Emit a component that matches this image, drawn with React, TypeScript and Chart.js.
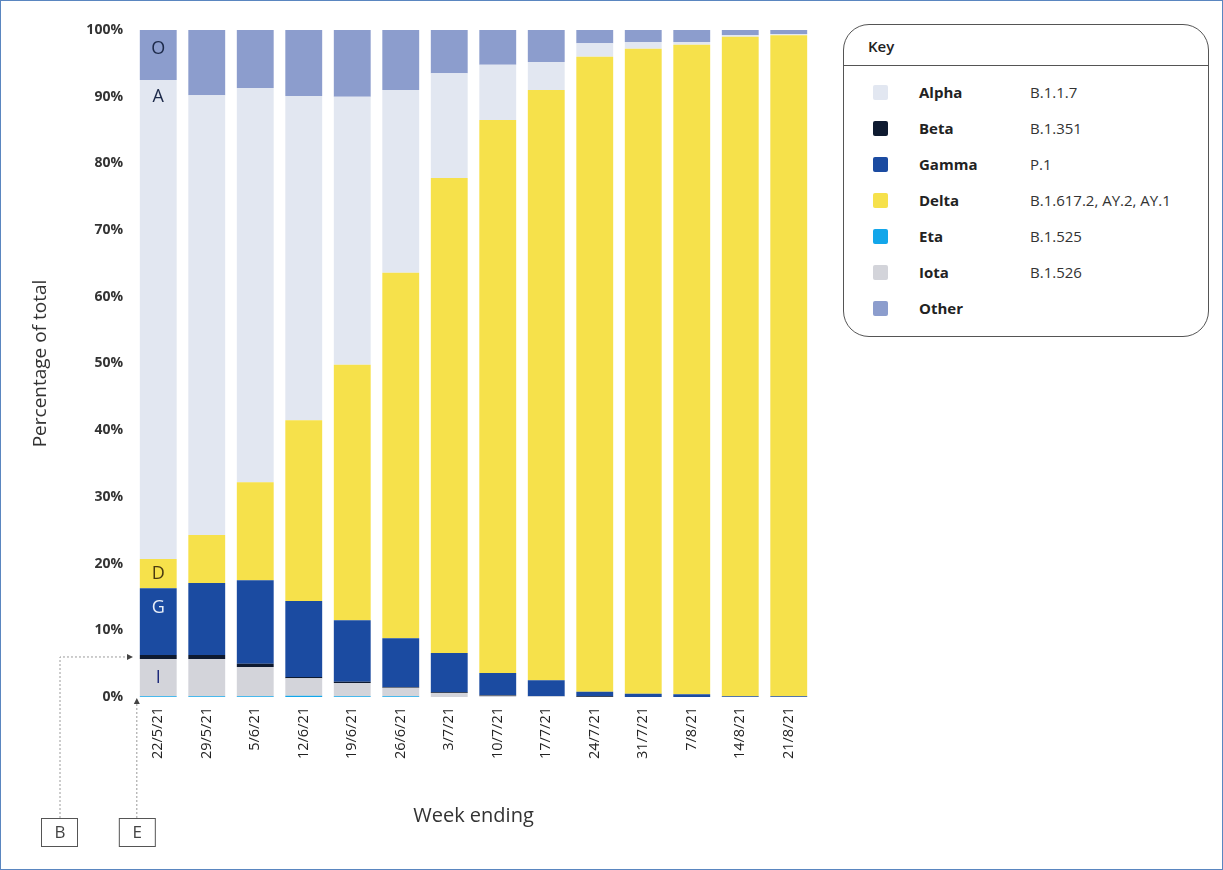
import React, { useEffect, useRef } from "react";
import { Chart, registerables } from "chart.js";

Chart.register(...registerables);

const weeks = ["22/5/21", "29/5/21", "5/6/21", "12/6/21", "19/6/21", "26/6/21", "3/7/21", "10/7/21", "17/7/21", "24/7/21", "31/7/21", "7/8/21", "14/8/21", "21/8/21"];
const eta = [0.1, 0.1, 0.1, 0.2, 0.1, 0.1, 0, 0, 0, 0, 0, 0, 0, 0];
const iota = [5.6, 5.6, 4.4, 2.6, 2.0, 1.3, 0.6, 0.2, 0.1, 0, 0, 0, 0, 0];
const beta = [0.6, 0.6, 0.5, 0.2, 0.2, 0.1, 0.1, 0.1, 0, 0.1, 0, 0, 0, 0];
const gamma = [10.0, 10.8, 12.5, 11.4, 9.2, 7.3, 5.9, 3.3, 2.4, 0.7, 0.5, 0.4, 0.1, 0.1];
const delta = [4.4, 7.2, 14.7, 27.1, 38.3, 54.8, 71.2, 82.9, 88.5, 95.2, 96.7, 97.4, 98.9, 99.1];
const alpha = [71.8, 65.9, 59.1, 48.6, 40.2, 27.4, 15.7, 8.3, 4.2, 2.0, 1.0, 0.4, 0.2, 0.2];
const other = [7.5, 9.8, 8.7, 9.9, 10.0, 9.0, 6.5, 5.2, 4.8, 2.0, 1.8, 1.8, 0.8, 0.6];
const yTicks = [0, 10, 20, 30, 40, 50, 60, 70, 80, 90, 100];

const COL = {
  eta: "#12a6ea",
  iota: "#d3d4da",
  beta: "#0e1a30",
  gamma: "#1b4ba1",
  delta: "#f6e14b",
  alpha: "#e2e7f1",
  other: "#8c9dcd",
};

const legendRows = [
  { name: "Alpha", code: "B.1.1.7", color: COL.alpha },
  { name: "Beta", code: "B.1.351", color: COL.beta },
  { name: "Gamma", code: "P.1", color: COL.gamma },
  { name: "Delta", code: "B.1.617.2, AY.2, AY.1", color: COL.delta },
  { name: "Eta", code: "B.1.525", color: COL.eta },
  { name: "Iota", code: "B.1.526", color: COL.iota },
  { name: "Other", code: "", color: COL.other },
];

const FONT = "'Open Sans', 'Noto Sans', sans-serif";

const annotPlugin = {
  id: "annot",
  afterDatasetsDraw(chart: any) {
    const ctx = chart.ctx;
    const el = (i: number) => chart.getDatasetMeta(i).data[0];
    const mid = (e: any) => (e.y + e.base) / 2;
    ctx.save();
    ctx.textAlign = "center";
    ctx.textBaseline = "middle";
    ctx.font = `18px ${FONT}`;
    const bx = el(0).x;
    ctx.fillStyle = "#1d2a4a";
    ctx.fillText("O", bx, mid(el(6)) - 6);
    ctx.fillStyle = "#1d2a4a";
    ctx.fillText("A", bx, el(5).y + 17);
    ctx.fillStyle = "#4a3a10";
    ctx.fillText("D", bx, mid(el(4)));
    ctx.fillStyle = "#e8eef8";
    ctx.fillText("G", bx, mid(el(3)) - 14);
    ctx.fillStyle = "#1d2a7a";
    ctx.fillText("I", bx, mid(el(1)));

    const area = chart.chartArea;
    const bottomY = 818;
    const bEl = el(2);
    const bY = mid(bEl);
    const bLineX = 60;
    const eLineX = bx - el(0).width / 2 - 3;
    ctx.strokeStyle = "#9a9a9a";
    ctx.lineWidth = 1;
    ctx.setLineDash([2, 2]);
    ctx.beginPath();
    ctx.moveTo(bLineX, bottomY);
    ctx.lineTo(bLineX, bY);
    ctx.lineTo(area.left - 6, bY);
    ctx.moveTo(eLineX, bottomY);
    ctx.lineTo(eLineX, area.bottom + 6);
    ctx.stroke();
    ctx.setLineDash([]);
    ctx.fillStyle = "#444";
    ctx.beginPath();
    ctx.moveTo(area.left - 1, bY);
    ctx.lineTo(area.left - 7, bY - 3);
    ctx.lineTo(area.left - 7, bY + 3);
    ctx.closePath();
    ctx.fill();
    ctx.beginPath();
    ctx.moveTo(eLineX, area.bottom + 1);
    ctx.lineTo(eLineX - 3, area.bottom + 7);
    ctx.lineTo(eLineX + 3, area.bottom + 7);
    ctx.closePath();
    ctx.fill();
    ctx.strokeStyle = "#555";
    ctx.strokeRect(bLineX - 18.5, bottomY + 0.5, 36, 28);
    ctx.strokeRect(eLineX - 17.5, bottomY + 0.5, 36, 28);
    ctx.fillStyle = "#444";
    ctx.font = `17px ${FONT}`;
    ctx.fillText("B", bLineX, bottomY + 15);
    ctx.fillText("E", eLineX + 0.5, bottomY + 15);
    ctx.restore();
  },
};

export default function App() {
  const ref = useRef<HTMLCanvasElement | null>(null);
  useEffect(() => {
    if (!ref.current) return;
    const mk = (label: string, data: number[], color: string) => ({
      label,
      data,
      backgroundColor: color,
      borderWidth: 0,
      barPercentage: 0.76,
      categoryPercentage: 1,
    });
    const chart = new Chart(ref.current, {
      type: "bar",
      data: {
        labels: weeks,
        datasets: [
          mk("Eta", eta, COL.eta),
          mk("Iota", iota, COL.iota),
          mk("Beta", beta, COL.beta),
          mk("Gamma", gamma, COL.gamma),
          mk("Delta", delta, COL.delta),
          mk("Alpha", alpha, COL.alpha),
          mk("Other", other, COL.other),
        ],
      },
      options: {
        animation: false,
        responsive: false,
        maintainAspectRatio: false,
        layout: { padding: { left: 29, right: 410, top: 30, bottom: 28 } },
        plugins: { legend: { display: false }, tooltip: { enabled: false } },
        scales: {
          x: {
            stacked: true,
            grid: { display: false, drawTicks: false },
            border: { display: false },
            ticks: {
              minRotation: 90,
              maxRotation: 90,
              autoSkip: false,
              padding: 10,
              color: "#222",
              font: { family: FONT, size: 14.5 },
            },
            title: {
              display: true,
              text: "Week ending",
              color: "#333",
              font: { family: FONT, size: 20 },
              padding: { top: 2, bottom: 14 },
            },
            afterFit(scale: any) {
              scale.height = 870 - 697 - 28;
            },
          },
          y: {
            stacked: true,
            min: 0,
            max: 100,
            afterBuildTicks(scale: any) {
              scale.ticks = yTicks.map((v) => ({ value: v }));
            },
            grid: { display: false, drawTicks: false },
            border: { display: false },
            ticks: {
              padding: 11,
              color: "#333",
              font: { family: FONT, size: 14, weight: "bold" },
              callback: (v: any) => `${v}%`,
            },
            title: {
              display: true,
              text: "Percentage of total",
              color: "#333",
              font: { family: FONT, size: 19 },
              padding: { top: 0, bottom: 0 },
            },
            afterFit(scale: any) {
              scale.width = 134 - 29;
            },
          },
        },
      },
      plugins: [annotPlugin],
    });
    return () => chart.destroy();
  }, []);

  return (
    <div
      style={{
        position: "absolute",
        left: 0,
        top: 0,
        width: 1223,
        height: 870,
        background: "#fff",
        boxSizing: "border-box",
        border: "1px solid #5a86c0",
        overflow: "hidden",
        fontFamily: FONT,
      }}
    >
      <canvas ref={ref} width={1223} height={870} style={{ position: "absolute", left: -1, top: -1 }} />
      <div
        style={{
          position: "absolute",
          left: 842,
          top: 23,
          width: 366,
          height: 313,
          boxSizing: "border-box",
          border: "1px solid #555",
          borderRadius: 26,
          background: "#fff",
        }}
      >
        <div style={{ height: 41, borderBottom: "1px solid #555", boxSizing: "border-box", paddingLeft: 24, lineHeight: "42px", fontSize: 15, fontWeight: 600, color: "#222" }}>
          Key
        </div>
        {legendRows.map((r, i) => (
          <div key={r.name} style={{ position: "absolute", left: 0, top: 55 + i * 36, height: 24, width: "100%" }}>
            <div style={{ position: "absolute", left: 29, top: 5, width: 15, height: 15, background: r.color, borderRadius: 2 }} />
            <div style={{ position: "absolute", left: 75, top: 0, lineHeight: "24px", fontSize: 15, fontWeight: 700, color: "#222" }}>{r.name}</div>
            <div style={{ position: "absolute", left: 186, top: 0, lineHeight: "24px", fontSize: 15, color: "#333" }}>{r.code}</div>
          </div>
        ))}
      </div>
    </div>
  );
}
